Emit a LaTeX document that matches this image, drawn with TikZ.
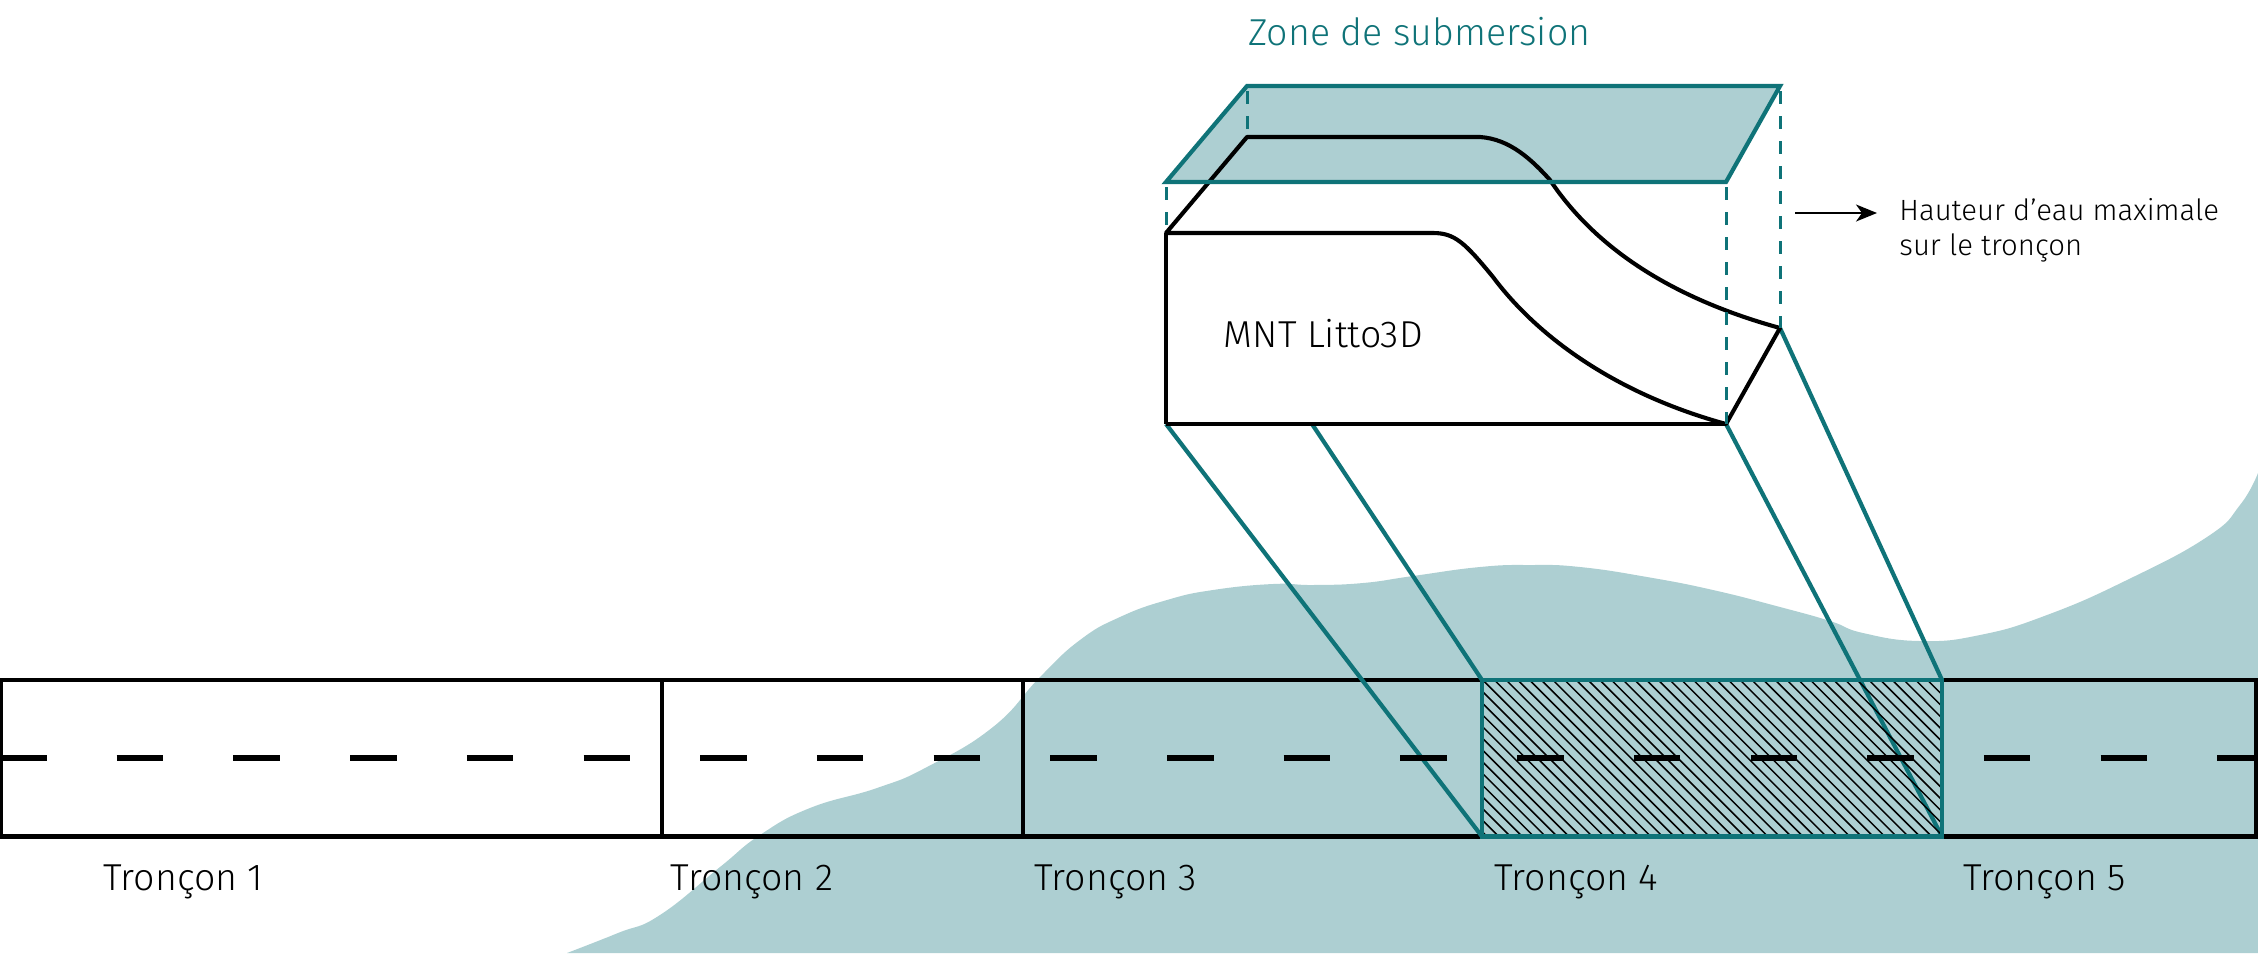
\documentclass[tikz,border=0pt]{standalone}
\usepackage{fontspec}
\setmainfont{Fira Sans}[UprightFont=* Light]
\usetikzlibrary{arrows.meta}
\definecolor{water}{HTML}{ADCFD2}
\definecolor{teal}{HTML}{0F7378}
\tikzset{
  blk/.style={draw=black,line width=2.05pt,line cap=butt,line join=miter},
  tl/.style={draw=teal,line width=2.1pt,line join=miter},
  tldash/.style={draw=teal,line width=1.5pt,dash pattern=on 6.25pt off 6.25pt,dash phase=10pt},
  lbl/.style={anchor=base west,inner sep=0pt,font=\fontsize{18.75pt}{20pt}\selectfont},
  lbls/.style={anchor=base west,inner sep=0pt,font=\fontsize{14.65pt}{18pt}\selectfont},
}
\begin{document}
\begin{tikzpicture}[x=0.5pt,y=-0.5pt]
\useasboundingbox (0,0) rectangle (2258,954);
% water area
\fill[water] plot[smooth,tension=0.8] coordinates {(567,953) (618,933) (660,915) (720,867) (760,835) (810,808) (877,788) (927,767) (993,727) (1040,677) (1080,640) (1120,617) (1167,600) (1213,590) (1273,584) (1313,585) (1363,583) (1413,576) (1480,567) (1530,565) (1580,567) (1647,577) (1713,590) (1780,607) (1830,621) (1863,633) (1920,641) (1980,635) (2047,615) (2127,580) (2207,537) (2240,505) (2258,473)} -- (2258,953) -- cycle;
% key points
\coordinate (rtl) at (1,680); \coordinate (rtr) at (2256,680);
\coordinate (rbl) at (1,836.5); \coordinate (rbr) at (2256,836.5);
\coordinate (h1) at (1482,680); \coordinate (h2) at (1942,680);
\coordinate (h3) at (1942,836.5); \coordinate (h4) at (1482,836.5);
\coordinate (d1t) at (662,680); \coordinate (d1b) at (662,836.5);
\coordinate (d2t) at (1023,680); \coordinate (d2b) at (1023,836.5);
\coordinate (pa) at (1247,86); \coordinate (pb) at (1780,86);
\coordinate (pc) at (1726,182); \coordinate (pd) at (1166,182);
\coordinate (fa) at (1166,233); \coordinate (fb) at (1166,424);
\coordinate (fc) at (1726,424); \coordinate (ba) at (1247,137);
\coordinate (bc) at (1780,328); \coordinate (fm) at (1312,424);
\coordinate (ar1) at (1795,213); \coordinate (ar2) at (1877,213);
% road
\draw[blk] (rtl) rectangle (rbr);
\draw[blk,line width=1.7pt] (d1t) -- (d1b);
\draw[blk,line width=1.7pt] (d2t) -- (d2b);
% projection lines
\draw[tl] (fb) -- (h4);
\draw[tl] (fm) -- (h1);
\draw[tl] (fc) -- (h3);
\draw[tl] (bc) -- (h2);
% hatching
\begin{scope}
\clip (h1) rectangle (h3);
\foreach \c in {650.6,662.3,...,1270}{
  \draw[black,line width=0.75pt] ({\c+660},660) -- ({\c+860},860);
}
\end{scope}
% dashes
\draw[black,line width=3pt,dash pattern=on 23.25pt off 35.1pt] (0,757.5) -- (2256,757.5);
\draw[tl] (h1) rectangle (h3);
% plane
\fill[water] (pa) -- (pb) -- (pc) -- (pd) -- cycle;
% terrain
\draw[blk,line join=round] (ba) -- (1480,137) .. controls (1510,139) and (1532,160) .. (1550,180)
  .. controls (1590,240) and (1660,295) .. (bc) -- (fc)
  .. controls (1620,395) and (1540,340) .. (1493,277) .. controls (1465,243) and (1455,233) .. (1433,233)
  -- (fa) -- cycle;
\draw[blk,line width=1.7pt] (fa) -- (fb);
\draw[blk] (fb) -- (fc);
% dashed guides
\draw[tldash] (pd) -- (fa);
\draw[tldash] (pa) -- (ba);
\draw[tldash] (pc) -- (fc);
\draw[tldash] (pb) -- (bc);
% plane outline
\draw[tl] (pa) -- (pb) -- (pc) -- (pd) -- cycle;
% arrow
\draw[black,line width=0.85pt,-{Stealth[length=10.5pt,width=8.5pt,inset=3pt]}] (ar1) -- (ar2);
% labels
\node[lbl,text=teal] (zone) at (1248,45) {Zone de submersion};
\node[lbl] (mnt) at (1223.5,347) {MNT Litto3D};
\node[lbls] (h1t) at (1899,220) {Hauteur d’eau maximale};
\node[lbls] (h2t) at (1899,255) {sur le tronçon};
\node[lbl] (t1) at (103,890) {Tronçon 1};
\node[lbl] (t2) at (670.5,890) {Tronçon 2};
\node[lbl] (t3) at (1034,890) {Tronçon 3};
\node[lbl] (t4) at (1494,890) {Tronçon 4};
\node[lbl] (t5) at (1962.6,890) {Tronçon 5};
\end{tikzpicture}
\end{document}
